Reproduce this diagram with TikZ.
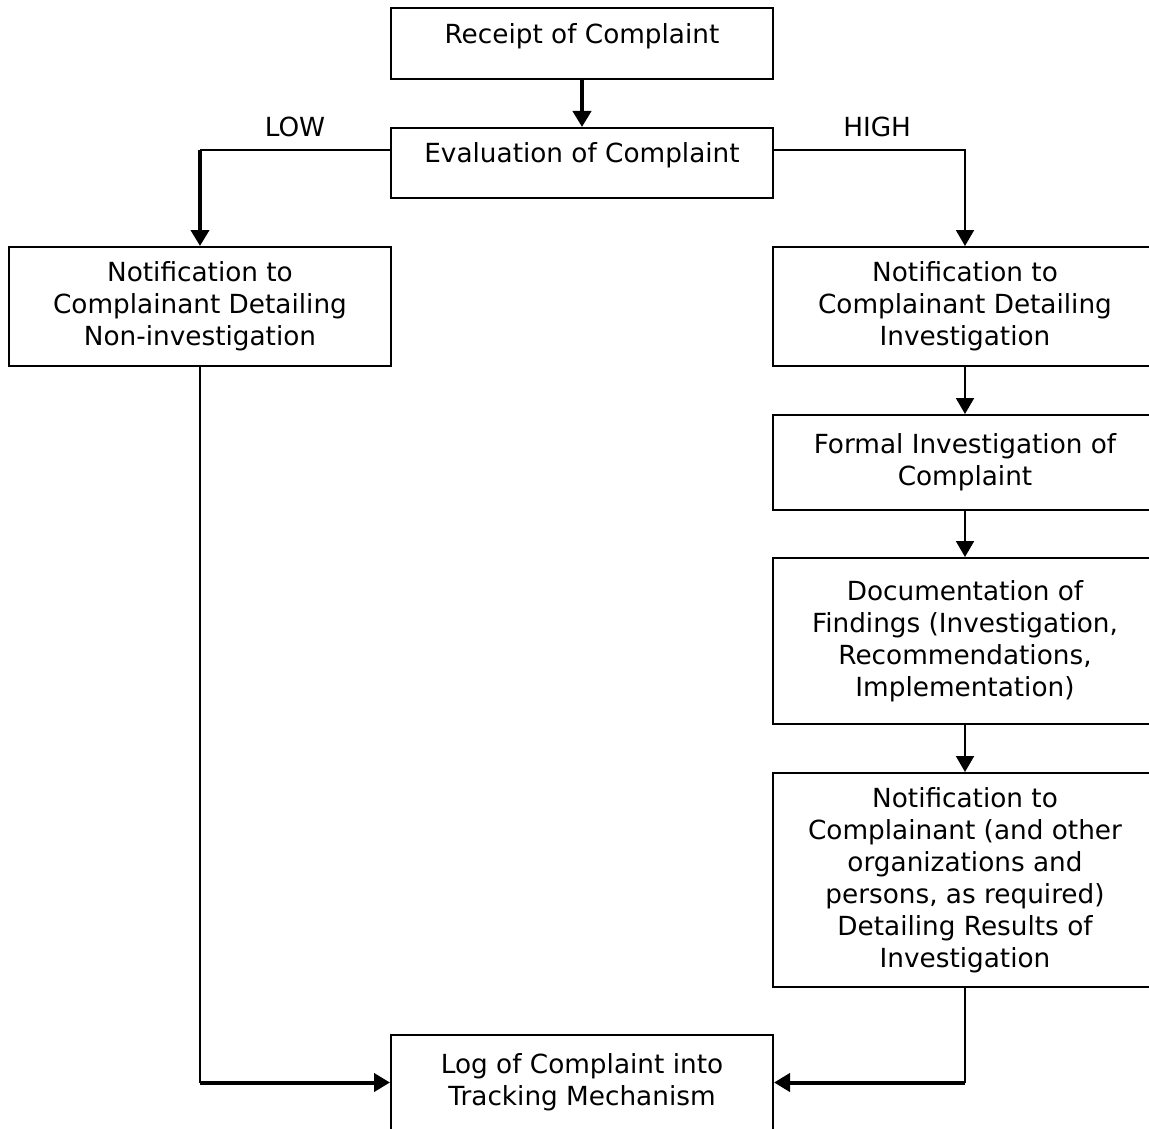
\documentclass[tikz,border=0pt]{standalone}
\usepackage{fontspec}
\setmainfont{DejaVu Sans}
\usetikzlibrary{arrows.meta}
\begin{document}
\begin{tikzpicture}[x=1pt,y=-1pt,
  box/.style={draw, line width=2pt, minimum width=382pt, align=center,
    font=\fontsize{26.3}{32}\selectfont, inner sep=0pt},
  oneline/.style={text height=12pt, text depth=12pt},
  con/.style={line width=2pt},
  heavy/.style={line width=4pt},
  tip/.style={-{Triangle[length=16pt,width=18pt]}},
  lbl/.style={font=\fontsize{26.3}{32}\selectfont, inner sep=0pt, above=12pt}]
\useasboundingbox (0,0) rectangle (1149,1129);
\clip (0,0) rectangle (1149,1129);
\node[box, oneline, minimum height=71pt] (rec) at (582,43.5) {Receipt of Complaint};
\node[box, oneline, minimum height=70pt] (eval) at (582,163) {Evaluation of Complaint};
\node[box, minimum height=119pt] (nni) at (200,306.5) {Notification to\\Complainant Detailing\\Non-investigation};
\node[box, minimum width=384pt, minimum height=119pt] (ni) at (965,306.5) {Notification to\\Complainant Detailing\\Investigation};
\node[box, minimum width=384pt, minimum height=95pt] (fi) at (965,462.5) {Formal Investigation of\\Complaint};
\node[box, minimum width=384pt, minimum height=166pt] (doc) at (965,641) {Documentation of\\Findings (Investigation,\\Recommendations,\\Implementation)};
\node[box, minimum width=384pt, minimum height=214pt] (res) at (965,880) {Notification to\\Complainant (and other\\organizations and\\persons, as required)\\Detailing Results of\\Investigation};
\node[box, minimum height=95pt] (log) at (582,1082.5) {Log of Complaint into\\Tracking Mechanism};
% connectors
\draw[heavy, tip] (rec) -- (eval);
\draw[con] ([yshift=13pt]eval.west) -- node[lbl]{LOW} ([yshift=13pt]eval.west -| nni.north);
\draw[heavy, tip] ([yshift=13pt]eval.west -| nni.north) -- (nni.north);
\draw[con, tip] ([yshift=13pt]eval.east) -- node[lbl, pos=0.54]{HIGH} ([yshift=13pt]eval.east -| ni.north) -- (ni.north);
\draw[con, tip] (ni) -- (fi);
\draw[con, tip] (fi) -- (doc);
\draw[con, tip] (doc) -- (res);
\draw[con] (nni.south) -- (nni.south |- log.west);
\draw[heavy, tip] (nni.south |- log.west) -- (log.west);
\draw[con] (res.south) -- (res.south |- log.east);
\draw[heavy, tip] (res.south |- log.east) -- (log.east);
\end{tikzpicture}
\end{document}
